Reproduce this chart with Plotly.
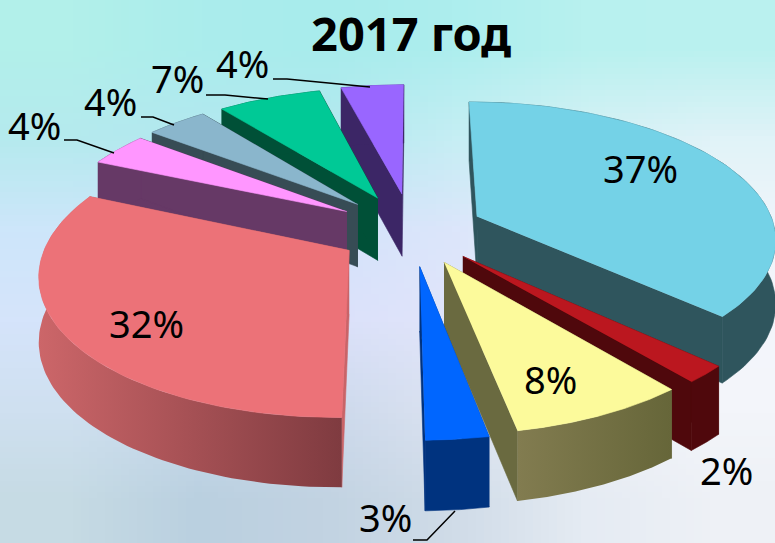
import base64, struct, zlib
import numpy as np
import plotly.graph_objects as go

# --- data (slice shares; labels are these rounded) ----
shares = [37.0, 2.0, 8.0, 2.8, 31.8, 3.9, 3.9, 6.6, 4.0]
title_text = "2017 год"

# --- styling ---------------------------------------------------------------
top_colors = ["#74D2E7", "#BB171F", "#FCFA9B", "#0066FF", "#EC7278", "#FF96FF", "#8AB6CC", "#00C996", "#9966FF"]
wall_colors = ["#2F555D", "#4F080C", "#6A6A40", "#00337F", "#C96468", "#663966", "#374C55", "#005037", "#3C2666"]
wall_grad = {2: ("#827C50", "#666639"), 4: ("#CC6669", "#7F3B40")}
explode_x = [0.211, 0.156, 0.094, 0.015, -0.216, -0.233, -0.197, -0.129, -0.045]
explode_y = [-0.137, 0.153, 0.194, 0.223, 0.110, -0.176, -0.231, -0.280, -0.312]
draw_order = [8, 7, 6, 5, 4, 0, 1, 2, 3]
label_px = [(640, 168), (726, 470), (550, 379), (385, 517), (146, 323), (34, 125), (110, 101), (177, 78), (242, 63)]
leaders = [None, None, None, [(413, 540), (427, 540), (455, 511)], None,
           [(64, 140), (77, 140), (114, 153)], [(141, 117), (153, 117), (174, 125)],
           [(206, 95), (225, 95), (268, 99)], [(273, 79), (287, 79), (370, 87)]]

CX, CY, A, B, P, D0 = 415, 235, 300, 137, 0.15, 63.5
W, H = 775, 543


def project(X, Y, drop=0.0):
    s = 1.0 / (1.0 - P * Y)
    return CX + A * X * s, CY + B * Y * s + drop * D0 * (1 + 0.5 * (s - 1))


fig = go.Figure()


def poly(xs, ys, color, grad=None):
    kw = dict(x=list(xs), y=list(ys), mode="lines", fill="toself", hoverinfo="skip", showlegend=False)
    if grad:
        kw["line"] = dict(width=0, color="rgba(0,0,0,0)")
        kw["fillgradient"] = dict(type="horizontal", colorscale=[[0, grad[0]], [1, grad[1]]])
    else:
        kw["line"] = dict(width=0.6, color=color)
        kw["fillcolor"] = color
    fig.add_trace(go.Scatter(**kw))


total = sum(shares)
edges = np.cumsum([0] + shares) / total * 2 * np.pi
for i in draw_order:
    t = np.linspace(edges[i], edges[i + 1], 90)
    ox, oy = explode_x[i], explode_y[i]
    X = ox + np.sin(t)
    Y = oy - np.cos(t)
    ax, ay = project(ox, oy)
    bx, by = project(ox, oy, 1)
    tx, ty = project(X, Y)
    fx, fy = project(X, Y, 1)
    # radial walls
    for k in (0, -1):
        poly([ax, tx[k], fx[k], bx], [ay, ty[k], fy[k], by], wall_colors[i])
    # outer wall
    poly(np.r_[tx, fx[::-1]], np.r_[ty, fy[::-1]], wall_colors[i], wall_grad.get(i))
    # top
    poly(np.r_[ax, tx], np.r_[ay, ty], top_colors[i])

for pts in leaders:
    if pts:
        fig.add_trace(go.Scatter(x=[p[0] for p in pts], y=[p[1] for p in pts], mode="lines",
                                 line=dict(color="black", width=1.5), hoverinfo="skip", showlegend=False))

for v, (lx, ly) in zip(shares, label_px):
    fig.add_annotation(x=lx, y=ly, text=f"{round(v)}%", showarrow=False, xref="x", yref="y",
                       font=dict(family="Noto Sans", size=38, color="black"))
fig.add_annotation(x=411, y=33, text=f"<b>{title_text}</b>", showarrow=False, xref="x", yref="y",
                   font=dict(family="Noto Sans", size=47, color="black"))

# --- soft background wash ---------------------------------------------------
bg_rows = [
    ["#B2F0EA", "#ABEDEC", "#A8ECEC", "#ADEEEE", "#B8F1EF", "#BAF1EF"],
    ["#B5EAEE", "#B3E8F0", "#B4E8F0", "#C6EEF4", "#D6F1F6", "#E0F3F8"],
    ["#CDE6FA", "#CDE5F8", "#D3E3FA", "#DCE6FB", "#E8F1FA", "#F0F5FB"],
    ["#D5E4FB", "#D6E4FA", "#DBE1FA", "#E1E5FA", "#F0F3FB", "#F4F6FC"],
    ["#CFE0F0", "#C8DAEC", "#CCD9EC", "#DCE3F1", "#EDF1F8", "#F3F5FA"],
    ["#C6DBE4", "#BAD0E0", "#C2D3E2", "#D0DCE8", "#E5EBF3", "#EEF1F6"],
]


def png_uri(rows):
    raw = b""
    for r in rows:
        raw += b"\x00" + b"".join(bytes.fromhex(c[1:]) for c in r)
    def chunk(tag, data):
        return struct.pack(">I", len(data)) + tag + data + struct.pack(">I", zlib.crc32(tag + data))
    png = (b"\x89PNG\r\n\x1a\n" + chunk(b"IHDR", struct.pack(">IIBBBBB", len(rows[0]), len(rows), 8, 2, 0, 0, 0))
           + chunk(b"IDAT", zlib.compress(raw)) + chunk(b"IEND", b""))
    return "data:image/png;base64," + base64.b64encode(png).decode()


fig.update_layout(
    width=W, height=H, margin=dict(l=0, r=0, t=0, b=0),
    paper_bgcolor="#DDE8F6", plot_bgcolor="rgba(0,0,0,0)", showlegend=False,
    xaxis=dict(range=[0, W], visible=False, fixedrange=True),
    yaxis=dict(range=[H, 0], visible=False, fixedrange=True),
    images=[dict(source=png_uri(bg_rows), xref="paper", yref="paper", x=0, y=1, sizex=1, sizey=1,
                 xanchor="left", yanchor="top", sizing="stretch", layer="below")],
)
fig.write_html("out.html", config=dict(displayModeBar=False),
               post_script="document.documentElement.style.margin='0';document.body.style.margin='0';document.body.style.overflow='hidden';")
